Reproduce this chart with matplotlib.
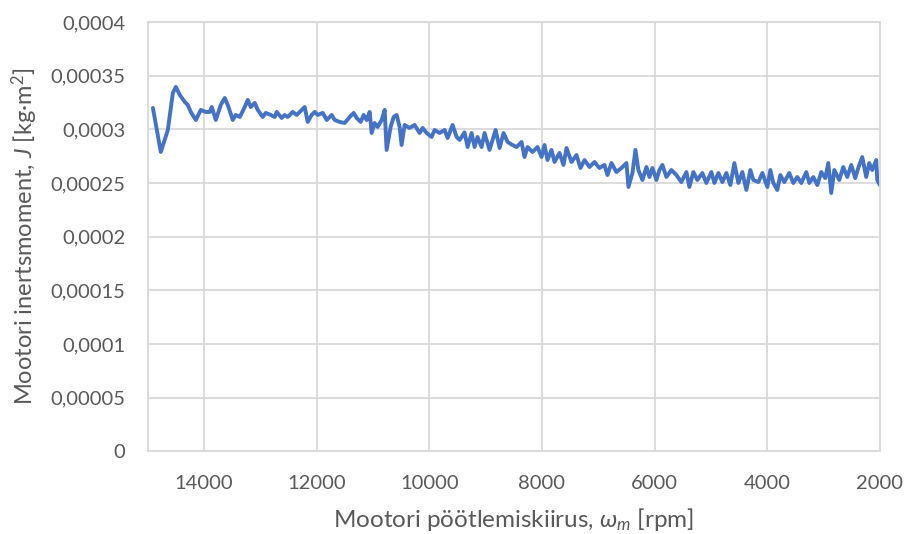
import matplotlib
matplotlib.use("Agg")
import matplotlib.pyplot as plt
from matplotlib.ticker import FuncFormatter, MultipleLocator

# motor speed [rpm] and inertia [1e-4 kg*m^2]
rpm = [14910, 14770, 14645, 14556, 14503, 14432, 14343, 14290, 14237, 14148,
       14059, 13971, 13900, 13864, 13793, 13705, 13634, 13580, 13492, 13438,
       13367, 13279, 13225, 13172, 13101, 13048, 12959, 12906, 12817, 12746,
       12711, 12622, 12569, 12516, 12427, 12356, 12267, 12214, 12161, 12090,
       12036, 11983, 11894, 11823, 11735, 11681, 11593, 11504, 11415, 11344,
       11291, 11220, 11167, 11114, 11060, 11025, 10972, 10918, 10847, 10794,
       10759, 10688, 10634, 10581, 10528, 10493, 10439, 10351, 10262, 10173,
       10120, 10049, 9960, 9907, 9818, 9729, 9676, 9587, 9516, 9463,
       9375, 9321, 9250, 9197, 9144, 9073, 9020, 8931, 8824, 8753,
       8682, 8611, 8523, 8452, 8363, 8310, 8257, 8168, 8079, 8008,
       7955, 7902, 7831, 7777, 7689, 7618, 7564, 7476, 7387, 7316,
       7245, 7156, 7068, 6979, 6890, 6837, 6766, 6677, 6588, 6500,
       6464, 6393, 6340, 6287, 6216, 6145, 6092, 6038, 5967, 5914,
       5861, 5790, 5701, 5612, 5524, 5435, 5382, 5311, 5240, 5151,
       5080, 4991, 4938, 4867, 4796, 4725, 4654, 4583, 4512, 4441,
       4370, 4299, 4246, 4157, 4086, 3997, 3944, 3891, 3820, 3767,
       3696, 3607, 3536, 3465, 3394, 3305, 3252, 3181, 3110, 3039,
       2968, 2915, 2862, 2808, 2720, 2649, 2578, 2507, 2436, 2383,
       2312, 2241, 2188, 2134, 2063, 2045, 2000]

J_e4 = [3.198, 2.788, 2.993, 3.338, 3.394, 3.319, 3.254, 3.226, 3.161, 3.086,
        3.180, 3.161, 3.161, 3.207, 3.086, 3.226, 3.291, 3.226, 3.086, 3.133,
        3.114, 3.207, 3.273, 3.207, 3.245, 3.180, 3.114, 3.152, 3.133, 3.114,
        3.161, 3.105, 3.133, 3.114, 3.161, 3.133, 3.180, 3.207, 3.068, 3.133,
        3.161, 3.133, 3.152, 3.086, 3.133, 3.086, 3.068, 3.058, 3.114, 3.152,
        3.105, 3.068, 3.133, 3.086, 3.161, 2.965, 3.058, 3.021, 3.086, 3.180,
        2.807, 3.021, 3.114, 3.133, 3.021, 2.853, 3.040, 3.012, 3.040, 2.965,
        3.012, 2.965, 2.928, 2.993, 2.965, 2.993, 2.918, 3.040, 2.928, 2.900,
        2.970, 2.834, 2.965, 2.834, 2.928, 2.834, 2.965, 2.807, 2.993, 2.825,
        2.965, 2.881, 2.853, 2.834, 2.881, 2.741, 2.834, 2.788, 2.834, 2.741,
        2.853, 2.713, 2.807, 2.695, 2.779, 2.667, 2.825, 2.695, 2.760, 2.639,
        2.713, 2.648, 2.695, 2.639, 2.667, 2.573, 2.685, 2.601, 2.639, 2.685,
        2.462, 2.592, 2.807, 2.620, 2.527, 2.648, 2.555, 2.639, 2.527, 2.620,
        2.667, 2.555, 2.620, 2.573, 2.508, 2.601, 2.462, 2.601, 2.527, 2.592,
        2.499, 2.601, 2.499, 2.592, 2.508, 2.592, 2.480, 2.685, 2.499, 2.601,
        2.434, 2.620, 2.527, 2.508, 2.592, 2.462, 2.620, 2.499, 2.434, 2.573,
        2.508, 2.592, 2.499, 2.555, 2.499, 2.601, 2.499, 2.555, 2.480, 2.601,
        2.545, 2.685, 2.406, 2.620, 2.527, 2.648, 2.555, 2.667, 2.545, 2.639,
        2.741, 2.555, 2.685, 2.620, 2.713, 2.527, 2.480]

x_ticks = [14000, 12000, 10000, 8000, 6000, 4000, 2000]

plt.rcParams['font.family'] = ['Lato', 'DejaVu Sans']
plt.rcParams['mathtext.fontset'] = 'custom'
plt.rcParams['mathtext.rm'] = 'Lato'
plt.rcParams['mathtext.it'] = 'Lato:italic'

grey_txt = '#595959'
grid_col = '#D9D9D9'


def comma_fmt(v, pos):
    s = f"{v:.5f}".rstrip('0').rstrip('.')
    return s.replace('.', ',')


fig = plt.figure(figsize=(9.07, 5.34), dpi=100)
ax = fig.add_axes([0.163, 0.155, 0.807, 0.804])

J = [v * 1e-4 for v in J_e4]
ax.plot(rpm, J, color='#4472C4', linewidth=2.8, solid_joinstyle='round',
        solid_capstyle='round')

ax.set_xlim(15000, 2000)
ax.set_ylim(0, 0.0004)
ax.set_xticks(x_ticks)
ax.yaxis.set_major_locator(MultipleLocator(0.00005))
ax.yaxis.set_major_formatter(FuncFormatter(comma_fmt))

ax.grid(True, color=grid_col, linewidth=1.3)
ax.set_axisbelow(True)
for sp in ax.spines.values():
    sp.set_color(grid_col)
    sp.set_linewidth(1.3)

ax.tick_params(length=0, labelsize=14.5, labelcolor=grey_txt)
ax.tick_params(axis='y', pad=16)
ax.tick_params(axis='x', pad=17)

ax.set_xlabel(r'Mootori pöötlemiskiirus, $\omega_m$ [rpm]', fontsize=17.5,
              color=grey_txt, labelpad=10)
ax.set_ylabel(r'Mootori inertsmoment, $J$ [kg·m$^2$]', fontsize=17,
              color=grey_txt, labelpad=8)

fig.savefig('out.png', dpi=100)
